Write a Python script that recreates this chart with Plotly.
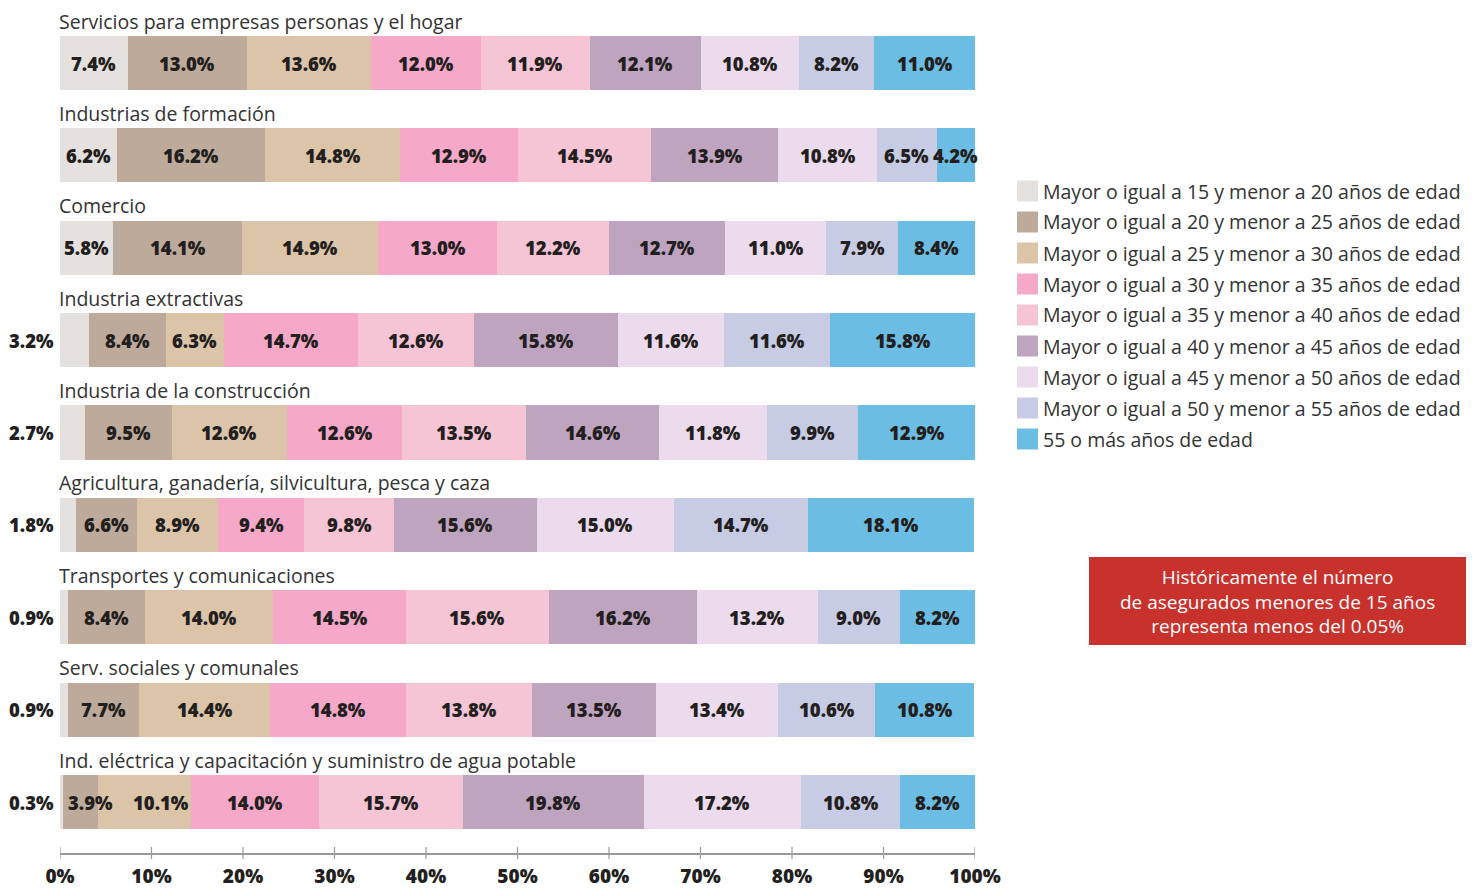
import plotly.graph_objects as go

categories = [
    "Servicios para empresas personas y el hogar",
    "Industrias de formación",
    "Comercio",
    "Industria extractivas",
    "Industria de la construcción",
    "Agricultura, ganadería, silvicultura, pesca y caza",
    "Transportes y comunicaciones",
    "Serv. sociales y comunales",
    "Ind. eléctrica y capacitación y suministro de agua potable",
]

age_groups = [
    "Mayor o igual a 15 y menor a 20 años de edad",
    "Mayor o igual a 20 y menor a 25 años de edad",
    "Mayor o igual a 25 y menor a 30 años de edad",
    "Mayor o igual a 30 y menor a 35 años de edad",
    "Mayor o igual a 35 y menor a 40 años de edad",
    "Mayor o igual a 40 y menor a 45 años de edad",
    "Mayor o igual a 45 y menor a 50 años de edad",
    "Mayor o igual a 50 y menor a 55 años de edad",
    "55 o más años de edad",
]

g15_20 = [7.4, 6.2, 5.8, 3.2, 2.7, 1.8, 0.9, 0.9, 0.3]
g20_25 = [13.0, 16.2, 14.1, 8.4, 9.5, 6.6, 8.4, 7.7, 3.9]
g25_30 = [13.6, 14.8, 14.9, 6.3, 12.6, 8.9, 14.0, 14.4, 10.1]
g30_35 = [12.0, 12.9, 13.0, 14.7, 12.6, 9.4, 14.5, 14.8, 14.0]
g35_40 = [11.9, 14.5, 12.2, 12.6, 13.5, 9.8, 15.6, 13.8, 15.7]
g40_45 = [12.1, 13.9, 12.7, 15.8, 14.6, 15.6, 16.2, 13.5, 19.8]
g45_50 = [10.8, 10.8, 11.0, 11.6, 11.8, 15.0, 13.2, 13.4, 17.2]
g50_55 = [8.2, 6.5, 7.9, 11.6, 9.9, 14.7, 9.0, 10.6, 10.8]
g55_plus = [11.0, 4.2, 8.4, 15.8, 12.9, 18.1, 8.2, 10.8, 8.2]

series = [g15_20, g20_25, g25_30, g30_35, g35_40, g40_45, g45_50, g50_55, g55_plus]

colors = ["#e5e1de", "#bdaa9a", "#dcc4a8", "#f5a8c8", "#f5c4d5",
          "#bfa4c0", "#ebdbec", "#c8cbe4", "#6cbde3"]

x_ticks = [0, 10, 20, 30, 40, 50, 60, 70, 80, 90, 100]
x_ticktext = ["0%", "10%", "20%", "30%", "40%", "50%", "60%", "70%", "80%", "90%", "100%"]

note_text = ("Históricamente el número<br>de asegurados menores de 15 años"
             "<br>representa menos del 0.05%")

# ---- layout geometry (page pixels; the page body adds an 8px offset) ----
OFF = 8
W_FIG, H_FIG = 1465, 882
L, T = 60 - OFF, 17 - OFF
PW = 915
R = W_FIG - L - PW
B = H_FIG - (853 - OFF)
PH = H_FIG - T - B

def px2x(px):
    return (px - OFF - L) / PW

def py2y(py):
    return 1 - (py - OFF - T) / PH

FONT = "Open Sans"
DARK = "#231f20"

fig = go.Figure()
ypos = list(range(len(categories)))
for name, vals, col in zip(age_groups, series, colors):
    fig.add_trace(go.Bar(
        y=ypos, x=vals, name=name, orientation="h",
        marker=dict(color=col, line=dict(width=0)),
        width=0.585, showlegend=False,
        hovertemplate="%{x:.1f}%<extra>" + name + "</extra>",
    ))

annotations = []
lab_font = dict(family=FONT, size=18.5, color=DARK, weight=800)
for r in range(len(categories)):
    cum = 0.0
    first_outside = False
    nudged = False
    for k, vals in enumerate(series):
        v = vals[r]
        label = f"{v:.1f}%"
        if k == 0 and v < 4:
            first_outside = True
            annotations.append(dict(x=0, y=r, xref="x", yref="y", text=label,
                                    showarrow=False, xanchor="right", xshift=-4,
                                    font=lab_font))
        else:
            # nudge crowded labels right, as in the original layout
            shift = 0
            if k == 1 and first_outside and v < 5:
                shift = 10
                nudged = True
            elif k == 2 and nudged:
                shift = 16
            annotations.append(dict(x=cum + v / 2, y=r, xref="x", yref="y", text=label,
                                    showarrow=False, xanchor="center", xshift=shift,
                                    font=lab_font))
        cum += v
    annotations.append(dict(x=0, y=r, xref="x", yref="y", text=categories[r],
                            showarrow=False, xanchor="left", yanchor="middle",
                            yshift=42, xshift=-3,
                            font=dict(family=FONT, size=19.5, color="#333333")))

shapes = []
for i, (name, col) in enumerate(zip(age_groups, colors)):
    cy = 191 + 31 * i
    shapes.append(dict(type="rect", xref="paper", yref="paper",
                       x0=px2x(1017), x1=px2x(1038), y0=py2y(cy + 10.5), y1=py2y(cy - 10.5),
                       fillcolor=col, line=dict(width=0)))
    annotations.append(dict(x=px2x(1041), y=py2y(cy), xref="paper", yref="paper",
                            text=name, showarrow=False, xanchor="left", yanchor="middle",
                            font=dict(family=FONT, size=19.5, color="#333333")))

shapes.append(dict(type="rect", xref="paper", yref="paper",
                   x0=px2x(1089), x1=px2x(1466), y0=py2y(645), y1=py2y(557),
                   fillcolor="#c8312c", line=dict(width=0)))
annotations.append(dict(x=px2x(1277.5), y=py2y(601), xref="paper", yref="paper",
                        text=note_text, showarrow=False, xanchor="center", yanchor="middle",
                        align="center",
                        font=dict(family=FONT, size=19, color="white")))

# tick marks crossing the axis line
for t in x_ticks:
    shapes.append(dict(type="line", xref="x", yref="paper", x0=t, x1=t,
                       y0=-6 / PH, y1=6 / PH, line=dict(color="#999999", width=1.2)))

fig.update_layout(
    width=W_FIG, height=H_FIG,
    margin=dict(l=L, r=R, t=T, b=B, autoexpand=False),
    barmode="stack",
    plot_bgcolor="white", paper_bgcolor="white",
    bargap=0,
    xaxis=dict(range=[0, 100], tickvals=x_ticks, ticktext=x_ticktext,
               showgrid=False, zeroline=False, showline=True, automargin=False,
               linecolor="#999999", linewidth=2,
               ticks="", ticklabelstandoff=5,
               tickfont=dict(family=FONT, size=19, color=DARK, weight=800)),
    yaxis=dict(range=[8.552, -0.498], showticklabels=False, showgrid=False,
               zeroline=False, showline=False, automargin=False),
    annotations=annotations,
    shapes=shapes,
)

fig.write_html("out.html")
